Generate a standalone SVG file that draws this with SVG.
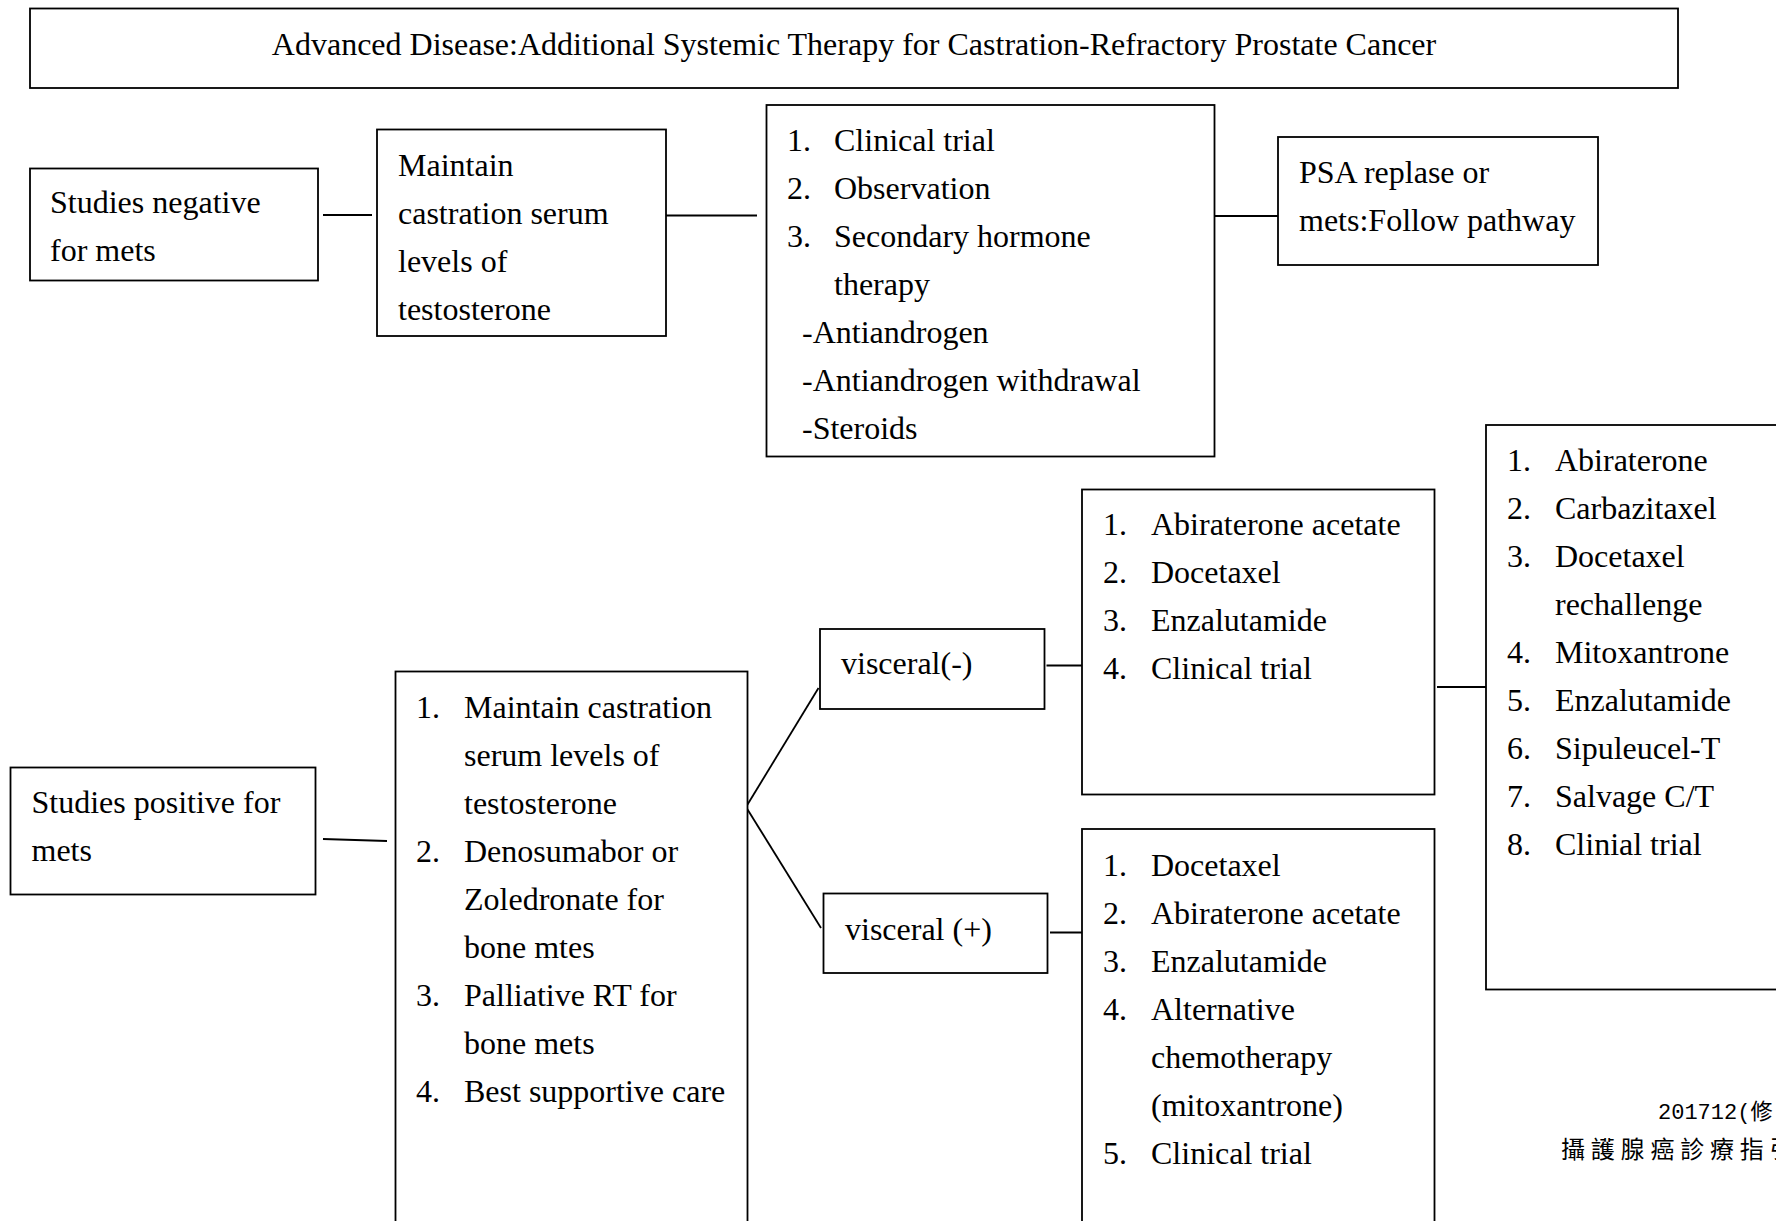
<svg xmlns="http://www.w3.org/2000/svg" width="1776" height="1221" viewBox="0 0 1776 1221">
  <style>
    .box { fill: #ffffff; stroke: #000000; stroke-width: 1.8; }
    .conn line { stroke: #000000; stroke-width: 1.8; }
    text { font-family: "Liberation Serif", "Times New Roman", serif; font-size: 32px; fill: #000000; }
    .note { font-family: "Liberation Mono", "Noto Sans CJK TC", monospace; font-size: 22px; }
    .cjk { font-family: "Noto Sans CJK TC", sans-serif; font-size: 24px; letter-spacing: 5.8px; }
  </style>
  <rect width="1776" height="1221" fill="#ffffff"/>

  <!-- connectors -->
  <g id="connectors" class="conn">
    <line x1="323" y1="215" x2="372" y2="215"/>
    <line x1="659" y1="215.5" x2="757" y2="215.5"/>
    <line x1="1211" y1="216" x2="1278" y2="216"/>
    <line x1="323" y1="839" x2="387" y2="841"/>
    <line x1="746" y1="807" x2="818.5" y2="688"/>
    <line x1="746" y1="807" x2="821" y2="928"/>
    <line x1="1046.5" y1="665.5" x2="1084" y2="665.5"/>
    <line x1="1050" y1="932.5" x2="1098.5" y2="932.5"/>
    <line x1="1437" y1="687" x2="1486" y2="687"/>
  </g>

  <!-- heading -->
  <g id="title">
    <rect class="box" x="30" y="8.5" width="1648" height="79.5"/>
    <text x="854" y="55" text-anchor="middle">Advanced Disease:Additional Systemic Therapy for Castration-Refractory Prostate Cancer</text>
  </g>

  <!-- negative branch -->
  <g id="studies-negative">
    <rect class="box" x="30" y="168.5" width="288" height="112"/>
    <text x="50" y="213">Studies negative</text>
    <text x="50" y="261">for mets</text>
  </g>

  <g id="maintain-castration">
    <rect class="box" x="377" y="129.5" width="289" height="206.5"/>
    <text x="398" y="176">Maintain</text>
    <text x="398" y="224">castration serum</text>
    <text x="398" y="272">levels of</text>
    <text x="398" y="320">testosterone</text>
  </g>

  <g id="negative-options">
    <rect class="box" x="766.5" y="105" width="448" height="351.5"/>
    <text x="787" y="151">1.</text><text x="834" y="151">Clinical trial</text>
    <text x="787" y="199">2.</text><text x="834" y="199">Observation</text>
    <text x="787" y="247">3.</text><text x="834" y="247">Secondary hormone</text>
    <text x="834" y="295">therapy</text>
    <text x="802" y="343">-Antiandrogen</text>
    <text x="802" y="391">-Antiandrogen withdrawal</text>
    <text x="802" y="439">-Steroids</text>
  </g>

  <g id="psa-relapse">
    <rect class="box" x="1278" y="137" width="320" height="128"/>
    <text x="1299" y="183">PSA replase or</text>
    <text x="1299" y="231">mets:Follow pathway</text>
  </g>

  <!-- positive branch -->
  <g id="studies-positive">
    <rect class="box" x="10.5" y="767.5" width="305" height="127"/>
    <text x="31.5" y="813">Studies positive for</text>
    <text x="31.5" y="861">mets</text>
  </g>

  <g id="positive-base">
    <rect class="box" x="395.5" y="671.5" width="352" height="580"/>
    <text x="416" y="718">1.</text><text x="464" y="718">Maintain castration</text>
    <text x="464" y="766">serum levels of</text>
    <text x="464" y="814">testosterone</text>
    <text x="416" y="862">2.</text><text x="464" y="862">Denosumabor or</text>
    <text x="464" y="910">Zoledronate for</text>
    <text x="464" y="958">bone mtes</text>
    <text x="416" y="1006">3.</text><text x="464" y="1006">Palliative RT for</text>
    <text x="464" y="1054">bone mets</text>
    <text x="416" y="1102">4.</text><text x="464" y="1102">Best supportive care</text>
  </g>

  <g id="visceral-negative">
    <rect class="box" x="820" y="629" width="224.5" height="80"/>
    <text x="841" y="674">visceral(-)</text>
  </g>

  <g id="visceral-positive">
    <rect class="box" x="823.5" y="893.5" width="224" height="79.5"/>
    <text x="845" y="940">visceral (+)</text>
  </g>

  <g id="visceral-negative-options">
    <rect class="box" x="1082" y="489.5" width="352.5" height="305"/>
    <text x="1103" y="535">1.</text><text x="1151" y="535">Abiraterone acetate</text>
    <text x="1103" y="583">2.</text><text x="1151" y="583">Docetaxel</text>
    <text x="1103" y="631">3.</text><text x="1151" y="631">Enzalutamide</text>
    <text x="1103" y="679">4.</text><text x="1151" y="679">Clinical trial</text>
  </g>

  <g id="visceral-positive-options">
    <rect class="box" x="1082" y="829" width="352.5" height="420"/>
    <text x="1103" y="876">1.</text><text x="1151" y="876">Docetaxel</text>
    <text x="1103" y="924">2.</text><text x="1151" y="924">Abiraterone acetate</text>
    <text x="1103" y="972">3.</text><text x="1151" y="972">Enzalutamide</text>
    <text x="1103" y="1020">4.</text><text x="1151" y="1020">Alternative</text>
    <text x="1151" y="1068">chemotherapy</text>
    <text x="1151" y="1116">(mitoxantrone)</text>
    <text x="1103" y="1164">5.</text><text x="1151" y="1164">Clinical trial</text>
  </g>

  <g id="later-line-options">
    <rect class="box" x="1486" y="425" width="320" height="564.5"/>
    <text x="1507" y="471">1.</text><text x="1555" y="471">Abiraterone</text>
    <text x="1507" y="519">2.</text><text x="1555" y="519">Carbazitaxel</text>
    <text x="1507" y="567">3.</text><text x="1555" y="567">Docetaxel</text>
    <text x="1555" y="615">rechallenge</text>
    <text x="1507" y="663">4.</text><text x="1555" y="663">Mitoxantrone</text>
    <text x="1507" y="711">5.</text><text x="1555" y="711">Enzalutamide</text>
    <text x="1507" y="759">6.</text><text x="1555" y="759">Sipuleucel-T</text>
    <text x="1507" y="807">7.</text><text x="1555" y="807">Salvage C/T</text>
    <text x="1507" y="855">8.</text><text x="1555" y="855">Clinial trial</text>
  </g>

  <!-- revision note -->
  <g id="revision-note">
    <text class="note" x="1658" y="1119">201712(修</text>
    <text class="cjk" x="1561" y="1158">攝護腺癌診療指引</text>
  </g>
</svg>
